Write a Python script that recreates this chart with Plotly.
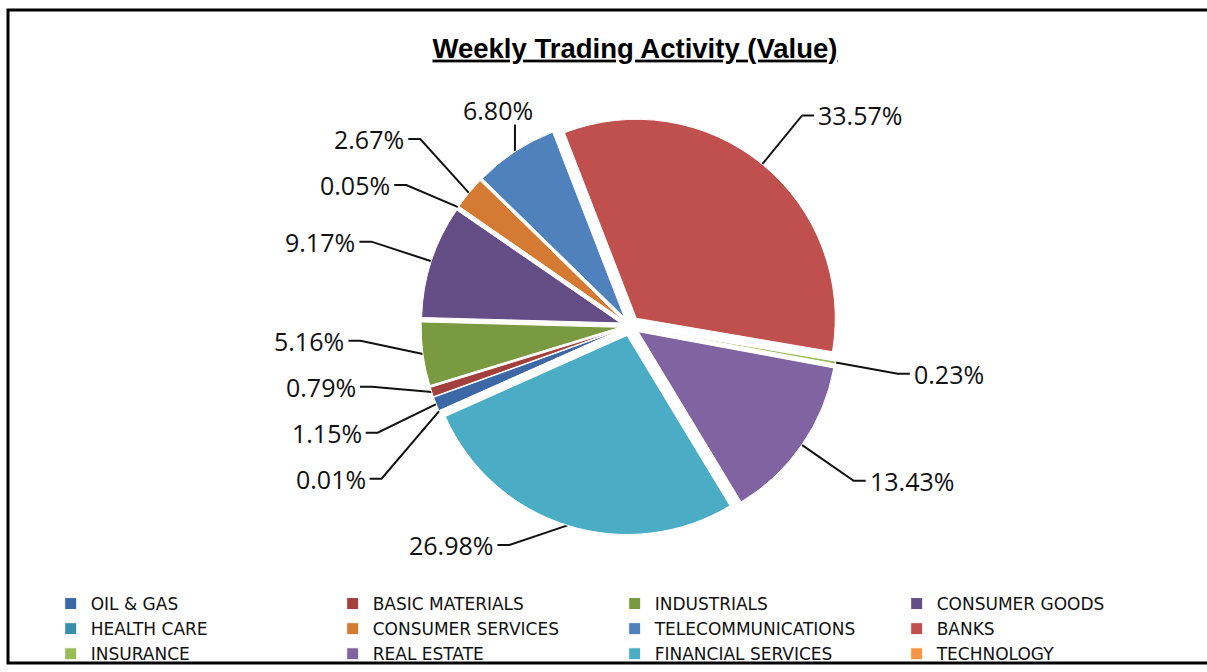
import math
import plotly.graph_objects as go

# ---------------- data ----------------
categories = ["OIL & GAS", "BASIC MATERIALS", "INDUSTRIALS", "CONSUMER GOODS",
              "HEALTH CARE", "CONSUMER SERVICES", "TELECOMMUNICATIONS", "BANKS",
              "INSURANCE", "REAL ESTATE", "FINANCIAL SERVICES", "TECHNOLOGY"]
shares = [1.15, 0.79, 5.16, 9.17, 0.05, 2.67, 6.80, 33.57, 0.23, 13.43, 26.98, 0.01]
slice_colors = ["#3C68A6", "#A33F3C", "#7A9A42", "#654D86", "#3A8FA8", "#D57A33",
                "#4F81BD", "#C0504D", "#9BBB59", "#8064A2", "#4BACC6", "#F79646"]
title_text = "Weekly Trading Activity (Value)"

# ---------------- layout constants ----------------
W, H = 1207, 672
CX, CY, R = 630, 326, 199          # pie centre / radius in pixels
PULL = 0.05
ROT = 246                           # first slice starts here (deg, clockwise from 12)
LABEL_R = 272
CLAMP_R = 250
GAP = 46
TAIL = 12
Y_MIN, Y_MAX = 108, 545
LABEL_FONT = dict(family="Open Sans, sans-serif", size=25, color="#111111")

side = 2 * R * (1 + PULL)
dom_x = [(CX - side / 2) / W, (CX + side / 2) / W]
dom_y = [1 - (CY + side / 2) / H, 1 - (CY - side / 2) / H]

labels_txt = [f"{v:.2f}%" for v in shares]

fig = go.Figure()

fig.add_trace(go.Pie(
    labels=categories, values=shares, sort=False, direction="clockwise",
    rotation=((ROT + 180) % 360) - 180,
    pull=[PULL] * len(shares),
    marker=dict(colors=slice_colors, line=dict(color="white", width=1)),
    textinfo="none", hoverinfo="label+percent",
    domain=dict(x=dom_x, y=dom_y),
))

# ---------------- leader lines & labels (computed from the data) ----------------
total = sum(shares)
cum = 0.0
info = []
for i, v in enumerate(shares):
    th = math.radians(ROT + (cum + v / 2) / total * 360)
    cum += v
    s, c = math.sin(th), math.cos(th)
    ax, ay = CX + R * (1 + PULL) * s, CY - R * (1 + PULL) * c
    lx, ly = CX + LABEL_R * s, CY - LABEL_R * c
    kind = "top" if c > 0.8 else ("left" if s < 0 else "right")
    cy_ = min(max(ly, Y_MIN), Y_MAX)
    if cy_ != ly:  # slide along a tighter circle when clamped
        lx = CX + math.copysign(math.sqrt(max(CLAMP_R ** 2 - (cy_ - CY) ** 2, 0)), s)
    info.append(dict(i=i, s=s, ax=ax, ay=ay, lx=lx, ly=cy_, kind=kind))


def spread(items):
    items = sorted(items, key=lambda d: d["ly"])
    blocks = []

    def top(b):
        return sum(d["ly"] - GAP * k for k, d in enumerate(b)) / len(b)

    for it in items:
        blocks.append([it])
        while len(blocks) > 1 and top(blocks[-2]) + GAP * len(blocks[-2]) > top(blocks[-1]):
            b2 = blocks.pop()
            blocks[-1] = blocks[-1] + b2
    for b in blocks:
        t = top(b)
        for k, d in enumerate(b):
            d["y"] = t + GAP * k


for k in ("left", "right"):
    spread([d for d in info if d["kind"] == k])

lx_all, ly_all = [], []
annotations = []
for d in info:
    if d["kind"] == "top":
        end_y = d["ay"] - 27
        lx_all += [d["ax"], d["ax"], None]
        ly_all += [d["ay"], end_y, None]
        annotations.append(dict(x=d["ax"] + 30 * d["s"], y=end_y + 4, text=labels_txt[d["i"]],
                                xanchor="center", yanchor="bottom"))
    else:
        sgn = -1 if d["kind"] == "left" else 1
        end = d["lx"] + sgn * TAIL
        lx_all += [d["ax"], d["lx"], end, None]
        ly_all += [d["ay"], d["y"], d["y"], None]
        annotations.append(dict(x=end + sgn * 2, y=d["y"], text=labels_txt[d["i"]],
                                xanchor="right" if sgn < 0 else "left", yanchor="middle"))

fig.add_trace(go.Scatter(x=lx_all, y=ly_all, mode="lines",
                         line=dict(color="#111111", width=2),
                         showlegend=False, hoverinfo="skip"))

for a in annotations:
    a.update(xref="x", yref="y", showarrow=False, font=LABEL_FONT)

fig.update_layout(
    width=W, height=H, autosize=False,
    margin=dict(l=0, r=0, t=0, b=0, pad=0, autoexpand=False),
    paper_bgcolor="white", plot_bgcolor="white",
    xaxis=dict(range=[0, W], visible=False, fixedrange=True, domain=[0, 1]),
    yaxis=dict(range=[H, 0], visible=False, fixedrange=True, domain=[0, 1]),
    title=dict(text=f"<b><u>{title_text}</u></b>",
               font=dict(family="Liberation Sans, Arial, sans-serif", size=27.5, color="black"),
               x=635 / W, xanchor="center", xref="paper",
               y=1 - 48 / H, yanchor="middle", yref="container"),
    legend=dict(orientation="h", x=0.042, y=1 - 586 / H, xanchor="left", yanchor="top",
                entrywidth=237, entrywidthmode="pixels", traceorder="normal",
                font=dict(family="DejaVu Sans, sans-serif", size=17, color="#111111"),
                bgcolor="rgba(0,0,0,0)"),
    annotations=annotations,
    shapes=[dict(type="rect", xref="paper", yref="paper",
                 x0=8 / W, x1=1.05, y0=1 - 663 / H, y1=1 - 10 / H,
                 line=dict(color="black", width=3))],
)

fig.write_html("out.html",
               config={"displayModeBar": False},
               post_script="document.body.style.margin='0';"
                           "document.body.style.overflow='hidden';")
